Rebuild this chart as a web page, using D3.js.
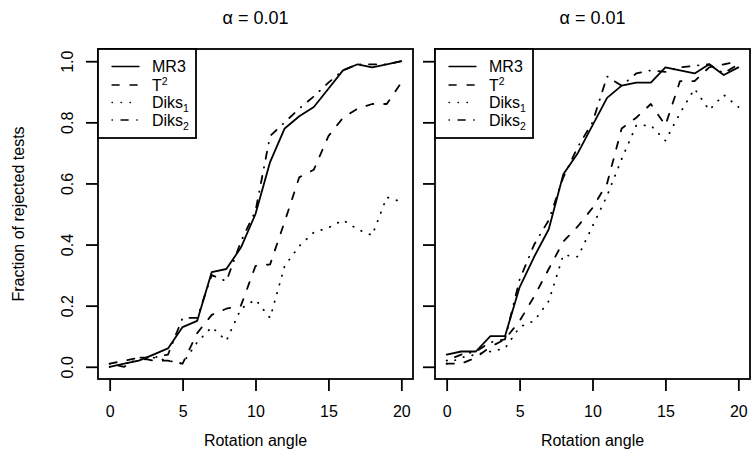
<!DOCTYPE html>
<html>
<head>
<meta charset="utf-8">
<script src="https://cdn.jsdelivr.net/npm/d3@7"></script>
<style>
  html, body { margin: 0; padding: 0; background: #fff; }
  svg { display: block; }
  text { font-family: "Liberation Sans", Arial, Helvetica, sans-serif; fill: #000; }
</style>
</head>
<body>
<svg id="chart" width="751" height="463"></svg>
<script>
// ---- data ----
const angles = [0,1,2,3,4,5,6,7,8,9,10,11,12,13,14,15,16,17,18,19,20];
const xTicks = [0,5,10,15,20];
const yTicks = [0,0.2,0.4,0.6,0.8,1.0];
const panelTitles = ["α = 0.01", "α = 0.01"];
const xLabel = "Rotation angle";
const yLabel = "Fraction of rejected tests";
const seriesNames = ["MR3", "T2", "Diks1", "Diks2"];

const leftMR3   = [0.00,0.01,0.02,0.04,0.06,0.13,0.15,0.31,0.32,0.39,0.50,0.67,0.78,0.82,0.85,0.91,0.97,0.99,0.98,0.99,1.00];
const leftT2    = [0.01,0.02,0.03,0.02,0.02,0.01,0.11,0.17,0.19,0.20,0.33,0.335,0.475,0.62,0.645,0.755,0.815,0.845,0.86,0.86,0.93];
const leftDiks1 = [0.00,0.01,0.02,0.03,0.02,0.01,0.08,0.13,0.085,0.19,0.22,0.16,0.33,0.395,0.44,0.455,0.48,0.45,0.43,0.555,0.54];
const leftDiks2 = [0.01,0.00,0.03,0.03,0.04,0.16,0.16,0.30,0.28,0.41,0.51,0.755,0.80,0.845,0.885,0.93,0.97,0.99,0.99,0.99,1.00];

const rightMR3   = [0.04,0.05,0.05,0.10,0.10,0.26,0.36,0.45,0.63,0.70,0.79,0.88,0.92,0.93,0.93,0.98,0.97,0.96,0.99,0.955,0.98];
const rightT2    = [0.01,0.01,0.03,0.065,0.09,0.15,0.23,0.32,0.41,0.46,0.52,0.60,0.78,0.815,0.86,0.79,0.935,0.935,0.98,0.99,1.00];
const rightDiks1 = [0.01,0.03,0.04,0.05,0.06,0.13,0.15,0.215,0.366,0.36,0.46,0.56,0.68,0.79,0.79,0.74,0.83,0.91,0.84,0.89,0.85];
const rightDiks2 = [0.02,0.04,0.05,0.08,0.09,0.285,0.40,0.48,0.62,0.72,0.80,0.95,0.92,0.96,0.97,0.965,0.98,0.985,0.99,0.96,0.99];

// ---- styles ----
const LW = 1.8;
const dashes = ["", "7.2,10.8", "0.45,8.55", "0.45,8.55,7.2,8.55"];
const FS = 16;

const svg = d3.select("#chart");
svg.append("rect").attr("width", 751).attr("height", 463).attr("fill", "#fff");

const panels = [
  { left: 98,  right: 413, series: [leftMR3, leftT2, leftDiks1, leftDiks2], yLabels: true, title: panelTitles[0] },
  { left: 435, right: 750, series: [rightMR3, rightT2, rightDiks1, rightDiks2], yLabels: false, title: panelTitles[1] }
];
const plotTop = 49, plotBottom = 379;

panels.forEach(p => {
  const x = d3.scaleLinear().domain([-0.8, 20.8]).range([p.left, p.right]);
  const y = d3.scaleLinear().domain([-0.04, 1.04]).range([plotBottom, plotTop]);
  const g = svg.append("g");

  // data lines
  const line = d3.line().x((d, i) => x(angles[i])).y(d => y(d));
  p.series.forEach((s, k) => {
    g.append("path").datum(s).attr("d", line)
      .attr("fill", "none").attr("stroke", "#000").attr("stroke-width", LW)
      .attr("stroke-linecap", "round").attr("stroke-linejoin", "round")
      .attr("stroke-dasharray", dashes[k] || null);
  });

  // box
  g.append("rect").attr("x", p.left).attr("y", plotTop)
    .attr("width", p.right - p.left).attr("height", plotBottom - plotTop)
    .attr("fill", "none").attr("stroke", "#000").attr("stroke-width", 1.8);

  // x axis
  const xa = g.append("g").attr("transform", `translate(0,${plotBottom})`)
    .call(d3.axisBottom(x).tickValues(xTicks).tickSize(12).tickPadding(15).tickFormat(d3.format("d")));
  xa.select(".domain").remove();
  xa.selectAll("line").attr("stroke-width", 1.8);
  xa.selectAll("text").attr("font-size", FS).attr("font-family", "Liberation Sans, Arial, sans-serif");

  // y axis
  const ya = g.append("g").attr("transform", `translate(${p.left},0)`)
    .call(d3.axisLeft(y).tickValues(yTicks).tickSize(12).tickFormat(d3.format(".1f")));
  ya.select(".domain").remove();
  ya.selectAll("line").attr("stroke-width", 1.8);
  if (p.yLabels) {
    ya.selectAll("text")
      .attr("x", null).attr("dy", "0.36em")
      .attr("text-anchor", "middle")
      .attr("transform", "translate(-31,0) rotate(-90)")
      .attr("font-size", FS).attr("font-family", "Liberation Sans, Arial, sans-serif");
  } else {
    ya.selectAll("text").remove();
  }

  // titles
  const cx = (p.left + p.right) / 2;
  g.append("text").attr("x", cx).attr("y", 24).attr("text-anchor", "middle")
    .attr("font-size", 18).text(p.title);
  g.append("text").attr("x", cx).attr("y", 446).attr("text-anchor", "middle")
    .attr("font-size", FS).text(xLabel);

  // legend
  const lx0 = p.left + 14, lx1 = p.left + 41, tx = p.left + 54;
  g.append("rect").attr("x", p.left).attr("y", plotTop).attr("width", 98).attr("height", 89)
    .attr("fill", "#fff").attr("stroke", "#000").attr("stroke-width", 1.8);
  const rows = [66.5, 85, 102.5, 120];
  seriesNames.forEach((nm, k) => {
    g.append("line").attr("x1", lx0).attr("x2", lx1).attr("y1", rows[k]).attr("y2", rows[k])
      .attr("stroke", "#000").attr("stroke-width", 1.3)
      .attr("stroke-linecap", "round")
      .attr("stroke-dasharray", dashes[k] || null);
    const t = g.append("text").attr("x", tx).attr("y", rows[k] + 5.8).attr("font-size", FS);
    if (nm === "MR3") {
      t.text("MR3");
    } else if (nm === "T2") {
      t.append("tspan").text("T");
      t.append("tspan").attr("font-size", 10.5).attr("dy", -5.5).text("2");
    } else {
      t.append("tspan").text("Diks");
      t.append("tspan").attr("font-size", 10.5).attr("dy", 4).text(nm.slice(-1));
    }
  });
});

// shared y label
svg.append("text").attr("transform", "translate(18,214) rotate(-90)")
  .attr("dy", "0.36em").attr("text-anchor", "middle").attr("font-size", FS).text(yLabel);
</script>
</body>
</html>
